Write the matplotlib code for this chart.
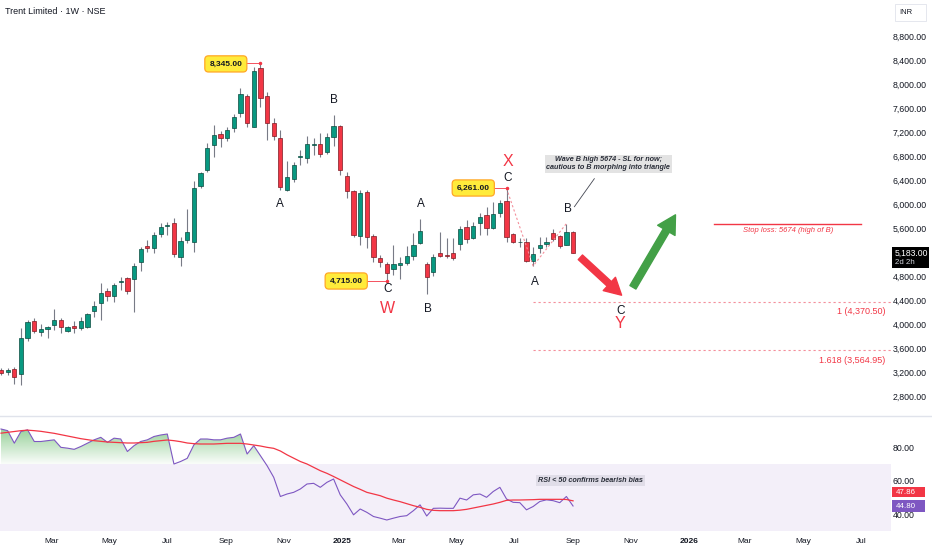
import matplotlib
matplotlib.use('Agg')
import matplotlib.pyplot as plt
import numpy as np
import pandas as pd
from matplotlib.path import Path
from matplotlib.lines import Line2D
from matplotlib.patches import Rectangle

plt.rcParams['font.family'] = ['Liberation Sans', 'DejaVu Sans']

# weekly candles, first bar = week of 2024-01-08
start = pd.Timestamp('2024-01-08')
opens = [3233, 3205, 3245, 3167, 3772, 4055, 3872, 3917, 3983, 4067,
         3883, 3962, 3928, 3955, 4217, 4355, 4555, 4472, 4700, 4762,
         4745, 5028, 5300, 5262, 5495, 5640, 5678, 5112, 5400, 5362,
         6300, 6567, 6983, 7167, 7095, 7262, 7512, 7805, 7288, 8272,
         7805, 7355, 7095, 6233, 6412, 6790, 6762, 6990, 6995, 6862,
         7122, 7300, 6467, 6217, 5467, 6205, 5467, 5105, 5000, 4912,
         4988, 5022, 5138, 5355, 5000, 4872, 5178, 5150, 5178, 5328,
         5612, 5438, 5678, 5817, 5595, 5845, 6055, 5500, 5365, 5372,
         5050, 5272, 5333, 5522, 5467, 5317, 5538]
highs = [3262, 3262, 3290, 3933, 4067, 4095, 3995, 3970, 4245, 4095,
         3960, 4055, 4112, 4180, 4383, 4683, 4595, 4688, 4780, 4788,
         5012, 5288, 5400, 5530, 5678, 5705, 5762, 5455, 5917, 6383,
         6538, 7012, 7317, 7217, 7288, 7495, 7928, 7828, 8288, 8345,
         7862, 7438, 7233, 6717, 6705, 6900, 7133, 7105, 7178, 7180,
         7483, 7317, 6528, 6233, 6233, 6233, 5500, 5150, 5038, 5317,
         5122, 5300, 5522, 5745, 5038, 5167, 5538, 5428, 5428, 5633,
         5733, 5705, 5845, 5955, 6038, 6067, 6261, 5512, 5428, 5428,
         5288, 5445, 5455, 5578, 5483, 5674, 5555]
lows = [3150, 3150, 3000, 2983, 3717, 3845, 3800, 3762, 3900, 3855,
        3870, 3855, 3900, 3930, 4112, 4067, 4388, 4372, 4567, 4500,
        4205, 4888, 5205, 5190, 5455, 5483, 5112, 4972, 5345, 5205,
        6272, 6528, 6788, 6955, 7050, 7195, 7455, 7278, 7280, 7622,
        7067, 7067, 6233, 6217, 6372, 6650, 6688, 6817, 6788, 6830,
        6972, 6483, 6095, 5455, 5317, 5262, 5038, 4955, 4715, 4817,
        4745, 4983, 5067, 5333, 4500, 4800, 5122, 5095, 5067, 5233,
        5345, 5412, 5483, 5483, 5578, 5788, 5372, 5345, 5288, 5038,
        4967, 5178, 5288, 5388, 5262, 5310, 5178]
closes = [3188, 3230, 3122, 3762, 4028, 3888, 3917, 3950, 4067, 3950,
          3945, 3940, 4050, 4162, 4305, 4522, 4472, 4650, 4710, 4550,
          4967, 5245, 5262, 5483, 5617, 5650, 5162, 5388, 5538, 6272,
          6512, 6938, 7150, 7095, 7233, 7445, 7828, 7345, 8217, 7762,
          7355, 7138, 6288, 6455, 6650, 6800, 6995, 6995, 6828, 7112,
          7300, 6567, 6217, 5483, 6188, 5445, 5112, 5038, 4845, 4995,
          5022, 5138, 5317, 5555, 4778, 5122, 5138, 5133, 5095, 5578,
          5417, 5633, 5778, 5595, 5828, 6022, 5455, 5362, 5372, 5050,
          5167, 5317, 5372, 5412, 5300, 5528, 5183]

rsi = [91, 90, 82.5, 89.5, 90.5, 83.5, 83.5, 84, 84.5, 80,
       79.5, 78.8, 80.5, 82.5, 84.5, 86, 83, 85.5, 85, 77.5,
       81, 83.5, 84.5, 86.5, 87.4, 88, 70, 71.5, 73.4, 81.5,
       85, 85, 84.5, 84.5, 85.5, 86, 88, 76, 81, 75,
       69, 62, 50.5, 52, 53, 55, 58, 58.4, 56, 59,
       61, 51.5, 46, 39.5, 43, 41, 38.5, 37.5, 36.4, 37.5,
       38.5, 39, 42, 45.5, 38.8, 43.4, 43.5, 43.4, 43.4, 49.5,
       48.4, 51.5, 52, 50, 53.5, 56, 49, 47, 46.8, 42.5,
       44.5, 47.5, 48.5, 48, 46.8, 50.5, 44.8]
rsi_ma = [88.5, 89, 89.5, 90, 90.3, 90, 89.6, 89, 88.4, 87.6,
          86.8, 86, 85.2, 84.6, 84, 83.6, 83.2, 83, 82.8, 82.6,
          82.6, 82.8, 83, 83.6, 84, 84.4, 84, 83.4, 82.6, 82.2,
          82, 82, 82, 82.2, 82.4, 82.4, 82.4, 82, 81.4, 80.8,
          80, 79.4, 77.8, 75.5, 73.5, 71.5, 70, 68, 66, 64.4,
          62.5, 60.5, 58.5, 56.5, 54.8, 53, 52, 51, 49.5, 48.4,
          47.4, 46.2, 45, 44, 42.8, 42.2, 42, 42, 42, 42.3,
          42.8, 43.6, 44.4, 45.2, 46, 47, 48.2, 48.4, 48.4, 48.5,
          48.6, 48.8, 48.8, 48.8, 48.8, 48.7, 47.9]

month_dates = ['2024-03-01', '2024-05-01', '2024-07-01', '2024-09-01', '2024-11-01',
               '2025-01-01', '2025-03-01', '2025-05-01', '2025-07-01', '2025-09-01',
               '2025-11-01', '2026-01-01', '2026-03-01', '2026-05-01', '2026-07-01']
month_labels = ['Mar', 'May', 'Jul', 'Sep', 'Nov', '2025', 'Mar', 'May', 'Jul', 'Sep',
                'Nov', '2026', 'Mar', 'May', 'Jul']
price_ticks = [2800, 3200, 3600, 4000, 4400, 4800, 5600, 6000, 6400, 6800,
               7200, 7600, 8000, 8400, 8800]
rsi_ticks = [40, 60, 80]

stop_loss = 5674
fib_1 = 4370.50
fib_1618 = 3564.95

GREEN = '#089981'
RED = '#F23645'
TXT = '#131722'

W, H = 932, 550
fig = plt.figure(figsize=(W / 100, H / 100), dpi=100)


def fy(py):
    return 1 - py / H


ax = fig.add_axes([0, fy(416), 891 / W, 416 / H])
ax_rsi = fig.add_axes([0, fy(531), 891 / W, (531 - 416) / H])

x = np.arange(len(closes))
o = np.array(opens)
c = np.array(closes)
up = c >= o

# candles
ax.vlines(x, lows, highs, color='#787b86', lw=0.8, zorder=2)
ax.bar(x, np.maximum(np.abs(c - o), 8), bottom=np.minimum(o, c), width=0.64,
       color=np.where(up, GREEN, RED),
       edgecolor=np.where(up, '#0b4a3e', '#7d1a22'), linewidth=0.5, zorder=3)

xmin, xmax = -0.15, 133.8
for a in (ax, ax_rsi):
    a.set_xlim(xmin, xmax)
    for s in a.spines.values():
        s.set_visible(False)
ax.set_ylim(2467, 9400)

ax.yaxis.tick_right()
ax.set_yticks(price_ticks)
ax.set_yticklabels([f'{v:,.2f}' for v in price_ticks])
ax.tick_params(axis='y', length=0, pad=1, labelsize=6.3, labelcolor=TXT)
ax.set_xticks([])


# price labels on extremes
def price_tag(i, price, tx, ty):
    ax.plot([tx, i], [price, price], color=RED, lw=0.6, zorder=4)
    ax.plot([i], [price], 'o', color=RED, ms=1.5, zorder=5)
    ax.text(tx, ty, f'{price:,.2f}', fontsize=6, ha='center', va='center', color=TXT,
            weight='bold', zorder=6,
            bbox=dict(boxstyle='round,pad=0.55,rounding_size=0.45', fc='#ffeb3b', ec='#ffa726', lw=0.9))


price_tag(39, highs[39], 33.8, 8335)
price_tag(76, highs[76], 71.0, 6267)
price_tag(58, lows[58], 51.9, 4717)

# wave labels
wave = [('A', 42, 6000, TXT, 8.5), ('B', 50, 7733, TXT, 8.5), ('A', 63.2, 5995, TXT, 8.5),
        ('C', 58.1, 4578, TXT, 8.5), ('W', 58.1, 4262, RED, 11.5), ('B', 64.2, 4245, TXT, 8.5),
        ('X', 76.2, 6705, RED, 11.5), ('C', 76.2, 6428, TXT, 8.5), ('B', 85.2, 5917, TXT, 8.5),
        ('A', 80.2, 4705, TXT, 8.5), ('C', 93.1, 4217, TXT, 8.5), ('Y', 93.1, 4012, RED, 11.5)]
for t, wx, wy, col, fs in wave:
    ax.text(wx, wy, t, color=col, fontsize=fs, ha='center', va='center', zorder=6)

# zigzag dashed lines
ax.plot([76, 80, 85], [highs[76], lows[80], highs[85]], color='#f48f9b', lw=0.8,
        ls=(0, (2, 2)), zorder=4)

# note
ax.text(91.3, 6672, 'Wave B high 5674 - SL for now;\ncautious to B morphing into triangle',
        fontsize=5.2, style='italic', weight='bold', color='#2a2e39', ha='center', va='center',
        linespacing=1.1, zorder=6,
        bbox=dict(boxstyle='square,pad=0.25', fc='#e3e3e3', ec='none'))
ax.plot([89.2, 86.2], [6422, 5955], color='#434651', lw=0.6, zorder=5)

# arrows
ax.annotate('', xy=(93.3, 4480), xytext=(87.1, 5112),
            arrowprops=dict(arrowstyle='simple,head_length=1.2,head_width=1.3,tail_width=0.45',
                            color=RED, shrinkA=0, shrinkB=0, mutation_scale=10), zorder=6)
ax.annotate('', xy=(101.4, 5820), xytext=(95.0, 4612),
            arrowprops=dict(arrowstyle='simple,head_length=1.3,head_width=1.45,tail_width=0.5',
                            color='#43a047', shrinkA=0, shrinkB=0, mutation_scale=10), zorder=6)

# stop loss
ax.plot([107.2, 129.3], [stop_loss, stop_loss], color=RED, lw=1.0, zorder=4)
ax.text(118.3, 5560, 'Stop loss: 5674 (high of B)', color=RED, fontsize=5.5,
        style='italic', ha='center', va='center')

# fib levels
for lvl, lab, ly in [(fib_1, f'1 ({fib_1:,.2f})', 4205), (fib_1618, f'1.618 ({fib_1618:,.2f})', 3400)]:
    ax.plot([80, xmax], [lvl, lvl], color='#f48f9b', lw=0.8, ls=(0, (2, 2.5)), zorder=4)
    ax.text(132.9, ly, lab, color=RED, fontsize=6.5, ha='right', va='center')

# RSI pane
r = np.array(rsi)
ax_rsi.axhspan(30, 70, color='#7e57c2', alpha=0.09, lw=0, zorder=0)
poly = ax_rsi.fill_between(x, r, 70, where=r >= 70, interpolate=True,
                           facecolor='none', edgecolor='none')
clip = Path.make_compound_path(*poly.get_paths())
grad = np.zeros((100, 2, 4))
grad[..., 0] = 0.30
grad[..., 1] = 0.69
grad[..., 2] = 0.31
grad[..., 3] = np.linspace(0.6, 0.03, 100)[:, None]
img = ax_rsi.imshow(grad, extent=[xmin, xmax, 70, 92], origin='upper', aspect='auto', zorder=1)
img.set_clip_path(clip, ax_rsi.transData)

ax_rsi.plot(x, r, color='#7e57c2', lw=0.8, zorder=3)
ax_rsi.plot(x, rsi_ma, color=RED, lw=0.9, zorder=3)
ax_rsi.set_xlim(xmin, xmax)
ax_rsi.set_ylim(29.8, 98.8)
ax_rsi.yaxis.tick_right()
ax_rsi.set_yticks(rsi_ticks)
ax_rsi.set_yticklabels([f'{v:.2f}' for v in rsi_ticks])
ax_rsi.tick_params(axis='y', length=0, pad=1, labelsize=6.3, labelcolor=TXT)

ax_rsi.text(88.6, 60, 'RSI < 50 confirms bearish bias', fontsize=5.2, style='italic',
            weight='bold', color='#2a2e39', ha='center', va='center', zorder=6,
            bbox=dict(boxstyle='square,pad=0.3', fc='#e0dde8', ec='none'))

month_x = [(pd.Timestamp(d) - start).days / 7 for d in month_dates]
ax_rsi.set_xticks(month_x)
ax_rsi.set_xticklabels(month_labels)
ax_rsi.tick_params(axis='x', length=0, pad=5, labelsize=6, labelcolor=TXT)
for lab in ax_rsi.get_xticklabels():
    if lab.get_text() in ('2025', '2026'):
        lab.set_fontweight('bold')

# title and right-side boxes
fig.text(5 / W, fy(12), 'Trent Limited · 1W · NSE', fontsize=6.5, color=TXT, va='center')
fig.add_artist(Line2D([0, 1], [fy(416), fy(416)], color='#e0e3eb', lw=1))


def px_box(x0, y0, x1, y1, fc, ec='none'):
    fig.add_artist(Rectangle((x0 / W, fy(y1)), (x1 - x0) / W, (y1 - y0) / H,
                             transform=fig.transFigure, fc=fc, ec=ec, lw=0.6))


px_box(895, 4, 926, 21, 'white', '#e0e3eb')
fig.text(899 / W, fy(12.5), 'INR', fontsize=5.5, color=TXT, va='center')

px_box(892, 247, 929, 268, '#000000')
fig.text(895 / W, fy(253), f'{closes[-1]:,.2f}', fontsize=6.2, color='white', va='center')
fig.text(895 / W, fy(262.5), '2d 2h', fontsize=5.7, color='#d1d4dc', va='center')

px_box(892, 487, 925, 497, RED)
fig.text(896 / W, fy(492), f'{rsi_ma[-1] - 0.04:.2f}', fontsize=5.7, color='white', va='center')
px_box(892, 500, 925, 512, '#7e57c2')
fig.text(896 / W, fy(506), f'{rsi[-1]:.2f}', fontsize=5.7, color='white', va='center')

fig.savefig('out.png', dpi=100, facecolor='white')
